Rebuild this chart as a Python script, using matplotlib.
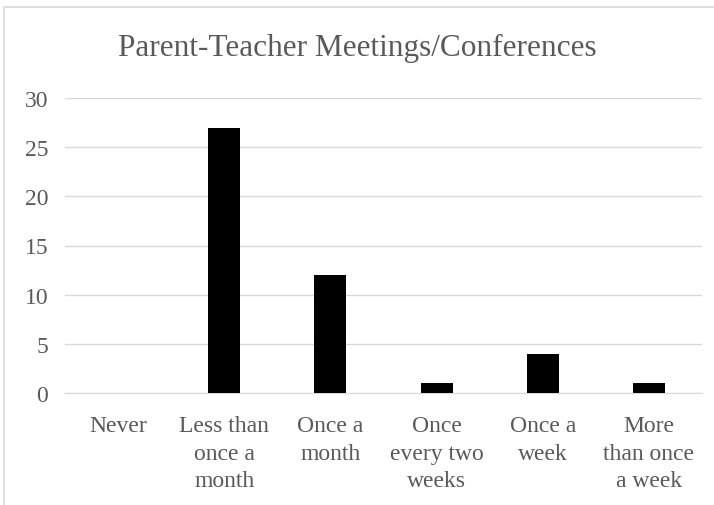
import matplotlib.pyplot as plt
import matplotlib.patches as mpatches
import numpy as np

categories = ["Never", "Less than\nonce a\nmonth", "Once a\nmonth", "Once\nevery two\nweeks",
              "Once a\nweek", "More\nthan once\na week"]
counts = [0, 27, 12, 1, 4, 1]
yticks = [0, 5, 10, 15, 20, 25, 30]

plt.rcParams['font.family'] = ['Liberation Serif', 'DejaVu Serif']
text_color = '#595959'
grid_color = '#d9d9d9'

fig = plt.figure(figsize=(7.14, 5.06), dpi=100)
ax = fig.add_axes([65 / 714, 1 - 394 / 506, 637 / 714, 295 / 506])

x = np.arange(len(categories))
ax.bar(x, counts, width=0.3, color='black', zorder=3)

ax.set_xlim(-0.5, len(categories) - 0.5)
ax.set_ylim(0, 30)
ax.set_yticks(yticks)
ax.set_xticks(x)
ax.set_xticklabels(categories, linespacing=1.4)
ax.yaxis.grid(True, color=grid_color, linewidth=1)
ax.set_axisbelow(True)
for s in ax.spines.values():
    s.set_visible(False)
ax.spines['bottom'].set_visible(True)
ax.spines['bottom'].set_color(grid_color)
ax.tick_params(axis='both', length=0, colors=text_color, labelsize=17)
ax.tick_params(axis='y', pad=12)
ax.tick_params(axis='x', pad=16)

fig.text(0.5, 1 - 48 / 506, "Parent-Teacher Meetings/Conferences", ha='center', va='center',
         fontsize=22.5, color=text_color)

# chart frame, only top and left edges are inside the picture
frame = mpatches.Rectangle((4 / 714, -0.1), 1.2, 1 - 8 / 506 + 0.1, transform=fig.transFigure,
                           fill=False, edgecolor=grid_color, linewidth=1.2)
fig.patches.append(frame)

fig.savefig("out.png", dpi=100)
